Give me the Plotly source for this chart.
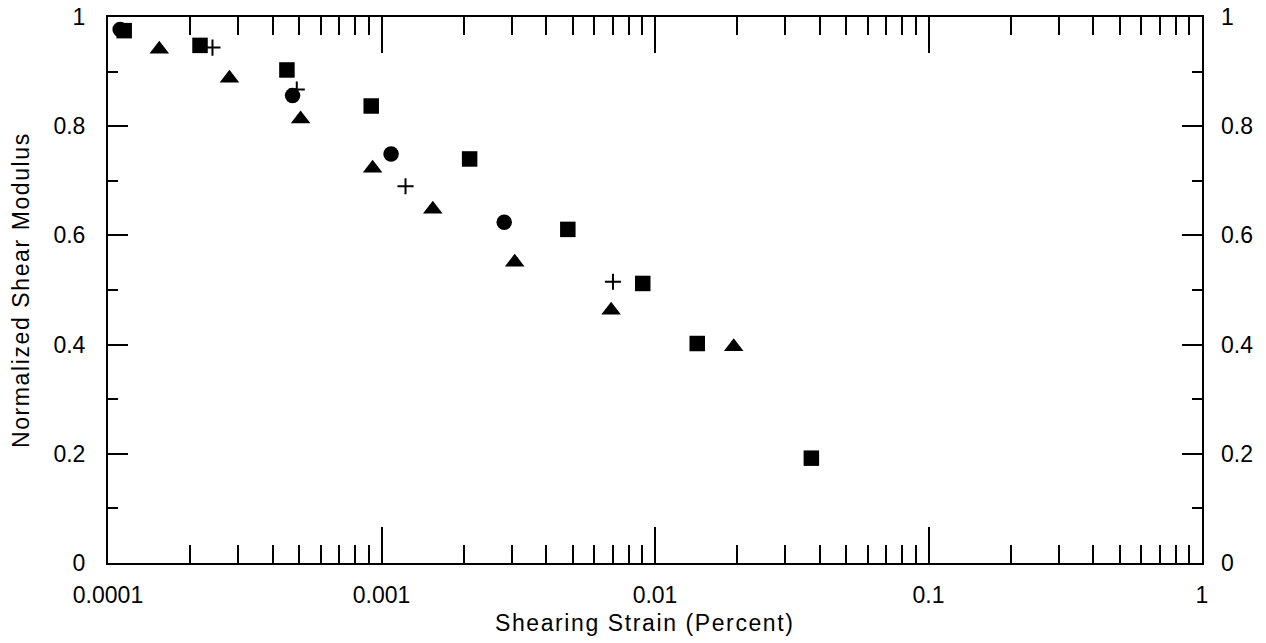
import plotly.graph_objects as go

# Normalized shear modulus versus shearing strain, one list pair per symbol
square_strain = [1.146e-4, 2.17e-4, 4.51e-4, 9.17e-4, 2.10e-3, 4.80e-3, 9.02e-3, 1.427e-2, 3.73e-2]
square_modulus = [0.975, 0.948, 0.903, 0.837, 0.740, 0.611, 0.512, 0.402, 0.192]

triangle_strain = [1.54e-4, 2.78e-4, 5.06e-4, 9.28e-4, 1.54e-3, 3.07e-3, 6.91e-3, 1.94e-2]
triangle_modulus = [0.941, 0.888, 0.813, 0.723, 0.648, 0.551, 0.463, 0.396]

circle_strain = [1.108e-4, 4.73e-4, 1.084e-3, 2.81e-3]
circle_modulus = [0.977, 0.856, 0.749, 0.624]

plus_strain = [2.41e-4, 4.90e-4, 1.224e-3, 7.02e-3]
plus_modulus = [0.944, 0.867, 0.690, 0.515]

x_tick_vals = [1e-4, 1e-3, 1e-2, 1e-1, 1]
x_tick_text = ["0.0001", "0.001", "0.01", "0.1", "1"]
y_tick_vals = [0, 0.2, 0.4, 0.6, 0.8, 1]
y_tick_text = ["0", "0.2", "0.4", "0.6", "0.8", "1"]

x_title = "Shearing Strain (Percent)"
y_title = "Normalized Shear Modulus"

# minor log ticks at 2..9 within each decade
minor_x = [m * 10.0 ** e for e in range(-4, 0) for m in range(2, 10)]

FONT = "Liberation Sans, Arial, sans-serif"
tick_font = dict(family=FONT, size=23, color="black")
title_font = dict(family=FONT, size=23, color="black")


def spaced(text):
    # axis titles are set slightly wider than the tick labels
    return '<span style="letter-spacing:1.6px">' + text + "</span>"


fig = go.Figure()

fig.add_trace(go.Scatter(
    x=plus_strain, y=plus_modulus, mode="markers",
    marker=dict(symbol="cross-thin", size=11.5, color="black",
                line=dict(width=2, color="black")),
))
fig.add_trace(go.Scatter(
    x=triangle_strain, y=triangle_modulus, mode="markers",
    marker=dict(symbol="triangle-up", size=17, color="black", line=dict(width=0)),
))
fig.add_trace(go.Scatter(
    x=circle_strain, y=circle_modulus, mode="markers",
    marker=dict(symbol="circle", size=15.5, color="black", line=dict(width=0)),
))
fig.add_trace(go.Scatter(
    x=square_strain, y=square_modulus, mode="markers",
    marker=dict(symbol="square", size=15.5, color="black", line=dict(width=0)),
))
# same modulus scale repeated on the right-hand side
fig.add_trace(go.Scatter(
    x=[None], y=[None], yaxis="y2", mode="markers", showlegend=False, hoverinfo="skip",
))

fig.update_layout(
    width=1266, height=643,
    margin=dict(l=108, r=64, t=17, b=80, autoexpand=False),
    paper_bgcolor="white", plot_bgcolor="white",
    showlegend=False,
    font=dict(family=FONT, color="black"),
    xaxis=dict(
        type="log", range=[-4, 0], automargin=False,
        tickmode="array", tickvals=x_tick_vals, ticktext=x_tick_text,
        ticks="inside", ticklen=36, tickwidth=2, tickcolor="black",
        showline=True, linewidth=2, linecolor="black", mirror="ticks",
        showgrid=False, zeroline=False,
        tickfont=tick_font, ticklabelstandoff=10,
        minor=dict(tickmode="array", tickvals=minor_x, ticks="inside",
                   ticklen=18, tickwidth=2, tickcolor="black", showgrid=False),
    ),
    yaxis=dict(
        range=[0, 1], automargin=False,
        tickmode="array", tickvals=y_tick_vals, ticktext=y_tick_text,
        ticks="inside", ticklen=20, tickwidth=2, tickcolor="black",
        showline=True, linewidth=2, linecolor="black", mirror="ticks",
        showgrid=False, zeroline=False,
        tickfont=tick_font, ticklabelstandoff=16,
        minor=dict(dtick=0.1, ticks="inside", ticklen=10, tickwidth=2,
                   tickcolor="black", showgrid=False),
    ),
    yaxis2=dict(
        overlaying="y", side="right", range=[0, 1], automargin=False,
        tickmode="array", tickvals=y_tick_vals, ticktext=y_tick_text,
        ticks="", showline=False, showgrid=False, zeroline=False,
        tickfont=tick_font, ticklabelstandoff=18,
    ),
    annotations=[
        dict(text=spaced(x_title), xref="paper", yref="paper", x=0.491, y=0,
             xanchor="center", yanchor="top", yshift=-45, showarrow=False,
             font=title_font),
        dict(text=spaced(y_title), xref="paper", yref="paper", x=0, y=0.5,
             xanchor="right", yanchor="middle", xshift=-72, textangle=-90,
             showarrow=False, font=title_font),
    ],
)

fig.write_html("out.html")
